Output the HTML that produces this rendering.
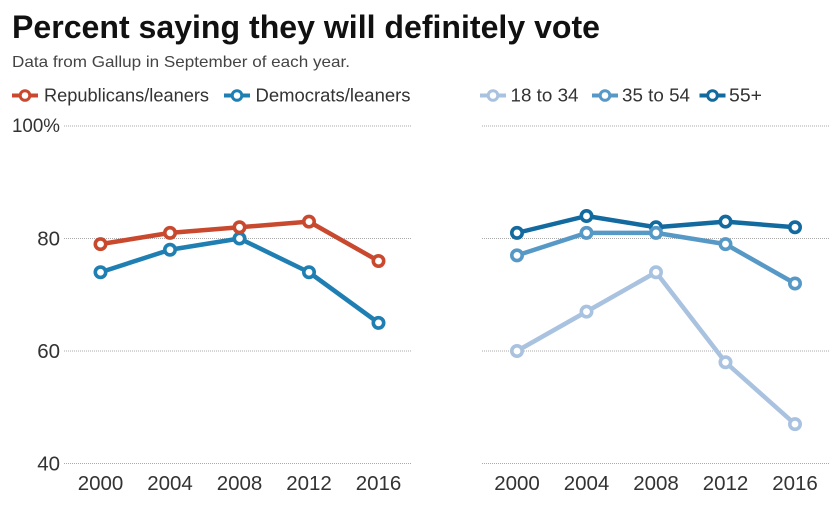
<!DOCTYPE html>
<html>
<head>
<meta charset="utf-8">
<style>
html,body{margin:0;padding:0;background:#fff;}
svg{display:block;}
text{font-family:"Liberation Sans",sans-serif;}
</style>
</head>
<body>
<svg id="chart" width="838" height="513" viewBox="0 0 838 513" xmlns="http://www.w3.org/2000/svg">
<rect width="838" height="513" fill="#fff"/>
<text x="12" y="38" font-size="32" font-weight="700" fill="#111" textLength="588" lengthAdjust="spacingAndGlyphs">Percent saying they will definitely vote</text>
<text x="12" y="67" font-size="16" fill="#444" textLength="338" lengthAdjust="spacingAndGlyphs">Data from Gallup in September of each year.</text>
</svg>
<script>
const years = ["2000", "2004", "2008", "2012", "2016"];
const yTicks = [100, 80, 60, 40];
const republicans = [79, 81, 82, 83, 76];
const democrats = [74, 78, 80, 74, 65];
const age18to34 = [60, 67, 74, 58, 47];
const age35to54 = [77, 81, 81, 79, 72];
const age55plus = [81, 84, 82, 83, 82];

const NS = "http://www.w3.org/2000/svg";
const svg = document.getElementById("chart");

function yScale(v) { return 463.5 - (v - 40) * (337.5 / 60); }
function xLeft(i) { return 100.5 + i * 69.5; }
function xRight(i) { return 517 + i * 69.5; }

function make(tag, attrs, parent) {
  const el = document.createElementNS(NS, tag);
  for (const k in attrs) el.setAttribute(k, attrs[k]);
  (parent || svg).appendChild(el);
  return el;
}

function drawGrid(x1, x2, panel) {
  yTicks.forEach(function (t) {
    const line = make("line", { x1: x1, x2: x2, y1: yScale(t), y2: yScale(t), stroke: "#aaa", "stroke-width": 1, "stroke-dasharray": "1 1" });
    
    
  });
}

function drawYears(xFn, panel) {
  years.forEach(function (y, i) {
    const label = make("text", { x: xFn(i), y: 490, "font-size": 20.5, fill: "#333", "text-anchor": "middle" });
    label.textContent = y;
    
    
  });
}

function drawSeries(values, xFn, color, name) {
  const points = values.map(function (v, i) { return xFn(i) + "," + yScale(v); }).join(" ");
  const line = make("polyline", { points: points, fill: "none", stroke: color, "stroke-width": 4.5, "stroke-linejoin": "round" });
  
  
  values.forEach(function (v, i) {
    const dot = make("circle", { cx: xFn(i), cy: yScale(v), r: 5.2, fill: "#fff", stroke: color, "stroke-width": 3.6 });
    
    
  });
}

function drawLegend(x, textX, color, label, width, name) {
  const line = make("line", { x1: x, x2: x + 26, y1: 95.5, y2: 95.5, stroke: color, "stroke-width": 4 });
  
  
  const dot = make("circle", { cx: x + 13, cy: 95.5, r: 4.8, fill: "#fff", stroke: color, "stroke-width": 3 });
  
  
  const txt = make("text", { x: textX, y: 101.5, "font-size": 18, fill: "#333", textLength: width, lengthAdjust: "spacingAndGlyphs" });
  txt.textContent = label;
  
  
}

drawGrid(64, 412, "left");
drawGrid(482, 830, "right");

yTicks.forEach(function (t) {
  const label = make("text", { x: 60, y: yScale(t) + 7, "font-size": 20.5, fill: "#333", "text-anchor": "end" });
  label.textContent = t === 100 ? "100%" : String(t);
  if (t === 100) {
    label.setAttribute('textLength', '48');
    label.setAttribute('lengthAdjust', 'spacingAndGlyphs');
    label.setAttribute('font-size', '19');
    label.setAttribute('y', yScale(t) + 6);
  }
  
  
});

drawYears(xLeft, "left");
drawYears(xRight, "right");

drawSeries(democrats, xLeft, "#1f7fb2", "democrats");
drawSeries(republicans, xLeft, "#c9492f", "republicans");
drawSeries(age55plus, xRight, "#126a9f", "age-55-plus");
drawSeries(age35to54, xRight, "#5799c6", "age-35-to-54");
drawSeries(age18to34, xRight, "#a9c2df", "age-18-to-34");

drawLegend(12, 44, "#c9492f", "Republicans/leaners", 165, "republicans");
drawLegend(224, 255.5, "#1f7fb2", "Democrats/leaners", 155, "democrats");
drawLegend(480, 510.5, "#a9c2df", "18 to 34", 68, "age-18-to-34");
drawLegend(592, 622, "#5799c6", "35 to 54", 68, "age-35-to-54");
drawLegend(699.5, 729, "#126a9f", "55+", 33, "age-55-plus");
</script>
</body>
</html>
